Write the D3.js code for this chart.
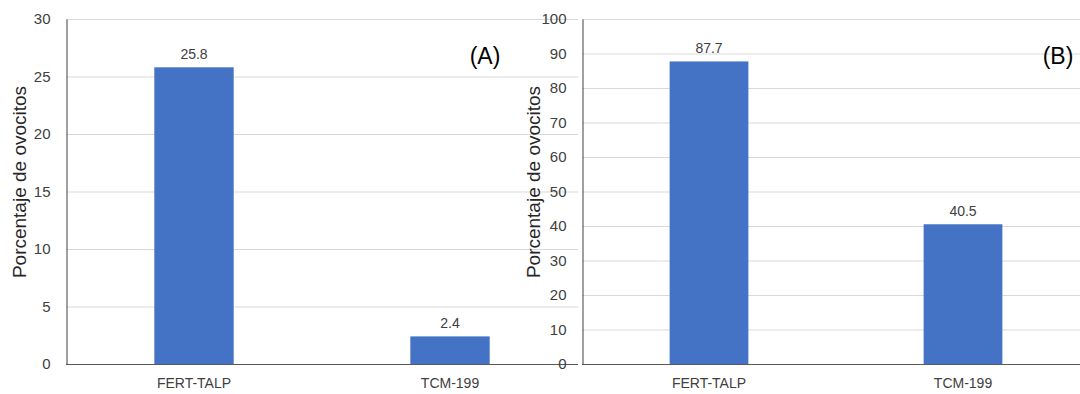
<!DOCTYPE html>
<html><head><meta charset="utf-8">
<script src="https://cdn.jsdelivr.net/npm/d3@7"></script>
<style>body{margin:0;background:#fff}svg{display:block}text{font-family:"Liberation Sans",Arial,sans-serif}</style>
</head><body><svg id="c" width="1080" height="394"></svg>
<script>
const categories = ["FERT-TALP", "TCM-199"];
const valuesA = [25.8, 2.4];
const valuesB = [87.7, 40.5];
const ticksA = [0, 5, 10, 15, 20, 25, 30];
const ticksB = [0, 10, 20, 30, 40, 50, 60, 70, 80, 90, 100];
const yTitle = "Porcentaje de ovocitos";
const panelLabels = ["(A)", "(B)"];

const svg = d3.select("#c");
function panel(cfg) {
  const g = svg.append("g");
  const x = d3.scaleBand().domain(categories).range([cfg.x0, cfg.x1]).paddingInner(0.69).paddingOuter(0.345);
  const y = d3.scaleLinear().domain([0, cfg.max]).range([364, 19]);
  // gridlines
  g.selectAll(".grid").data(cfg.ticks.filter(t => t > 0)).join("line")
    .attr("x1", cfg.x0).attr("x2", cfg.x1)
    .attr("y1", d => y(d) + 0.5).attr("y2", d => y(d) + 0.5)
    .attr("stroke", "#d9d9d9").attr("stroke-width", 1);
  // bars
  g.selectAll(".bar").data(cfg.values).join("rect")
    .attr("x", (d, i) => x(categories[i])).attr("width", x.bandwidth())
    .attr("y", d => y(d)).attr("height", d => y(0) - y(d))
    .attr("fill", "#4472c4");
  // data labels
  g.selectAll(".dl").data(cfg.values).join("text")
    .attr("x", (d, i) => x(categories[i]) + x.bandwidth() / 2)
    .attr("y", d => y(d) - 8)
    .attr("text-anchor", "middle").attr("font-size", 14).attr("fill", "#404040")
    .text(d => d.toFixed(1));
  // x axis
  const xa = g.append("g").attr("transform", `translate(0,${y(0) + 0.5})`)
    .call(d3.axisBottom(x).tickSize(0).tickPadding(14));
  xa.select(".domain").attr("stroke", "#595959").attr("d", `M${cfg.x0},0H${cfg.x1}`);
  xa.selectAll("text").attr("font-size", 14).attr("fill", "#404040").attr("font-family", '"Liberation Sans",Arial,sans-serif');
  // y axis
  const ya = g.append("g").attr("transform", `translate(${cfg.x0 + 0.5},0)`)
    .call(d3.axisLeft(y).tickValues(cfg.ticks).tickSize(0).tickPadding(16).tickFormat(d3.format("d")));
  ya.select(".domain").attr("stroke", "#404040");
  ya.selectAll("text").attr("font-size", 15).attr("fill", "#404040").attr("font-family", '"Liberation Sans",Arial,sans-serif');
  // y title
  g.append("text").attr("transform", `translate(${cfg.tx},${cfg.ty}) rotate(-90)`)
    .attr("text-anchor", "middle").attr("font-size", 19).attr("fill", "#262626").text(yTitle);
  // panel label
  g.append("text").attr("x", cfg.lx).attr("y", 64).attr("text-anchor", "middle")
    .attr("font-size", 23).attr("fill", "#000").text(cfg.label);
}
panel({x0: 66, x1: 578, max: 30, ticks: ticksA, values: valuesA, tx: 26, ty: 182, lx: 485, label: panelLabels[0]});
panel({x0: 582, x1: 1090, max: 100, ticks: ticksB, values: valuesB, tx: 540, ty: 182, lx: 1058, label: panelLabels[1]});
</script></body></html>
